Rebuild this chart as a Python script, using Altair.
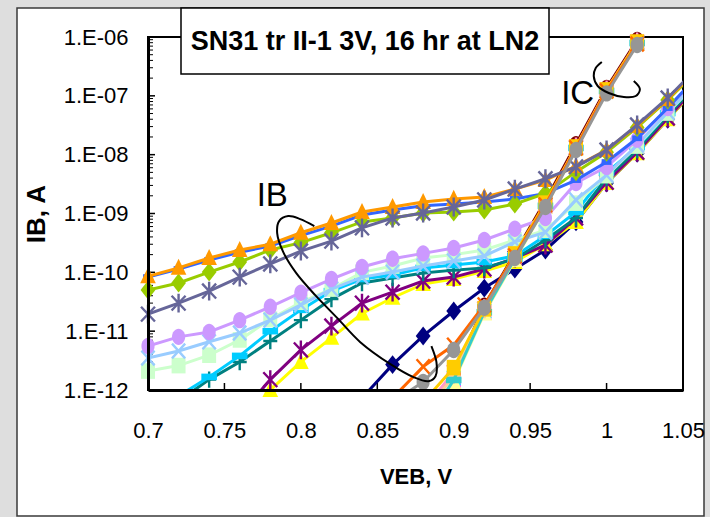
import altair as alt
import pandas as pd

# Emitter-base voltage sweep (V)
VEB = [0.70, 0.72, 0.74, 0.76, 0.78, 0.80, 0.82, 0.84, 0.86, 0.88,
       0.90, 0.92, 0.94, 0.96, 0.98, 1.00, 1.02, 1.04, 1.06]
VEB_IC = [0.86, 0.88, 0.90, 0.92, 0.94, 0.96, 0.98, 1.00, 1.02, 1.04]

# Base currents IB (A); each list ends at the last VEB point
ib_s01 = [7.3e-13, 2.7e-12, 8.3e-12, 2.2e-11, 5.4e-11, 1.14e-10, 2.4e-10, 7.2e-10, 3.3e-9, 1.06e-8, 4.0e-8, 1.48e-7]
ib_s03 = [2.5e-13, 1.0e-12, 3.0e-12, 7.7e-12, 2.0e-11, 3.7e-11, 6.3e-11, 7.7e-11, 1.05e-10, 1.5e-10, 3.0e-10, 7.2e-10, 3.3e-9, 1.06e-8, 4.0e-8, 1.48e-7]
ib_s05 = [3.8e-13, 1.5e-12, 4.8e-12, 1.22e-11, 3.0e-11, 4.6e-11, 7.1e-11, 8.3e-11, 1.14e-10, 1.75e-10, 2.9e-10, 8.4e-10, 3.4e-9, 1.1e-8, 4.2e-8, 1.53e-7]
ib_s07 = [2.5e-13, 6.5e-13, 1.5e-12, 3.0e-12, 6.8e-12, 1.54e-11, 3.5e-11, 6.6e-11, 8.0e-11, 9.7e-11, 1.09e-10, 1.19e-10, 1.7e-10, 3.55e-10, 8.4e-10, 4.0e-9, 1.2e-8, 4.7e-8, 1.65e-7]
ib_s09 = [3.8e-13, 7.9e-13, 1.67e-12, 3.8e-12, 1.0e-11, 2.3e-11, 4.8e-11, 7.7e-11, 9.0e-11, 1.19e-10, 1.33e-10, 1.5e-10, 1.9e-10, 4.2e-10, 1.06e-9, 4.9e-9, 1.35e-8, 5.1e-8, 1.8e-7]
ib_s11 = [2.1e-12, 2.6e-12, 3.9e-12, 7.1e-12, 1.6e-11, 3.1e-11, 5.2e-11, 1.0e-10, 1.28e-10, 1.75e-10, 2.0e-10, 2.4e-10, 3.55e-10, 5.2e-10, 1.5e-9, 4.4e-9, 1.4e-8, 5.1e-8, 1.8e-7]
ib_s13 = [3.5e-12, 4.6e-12, 6.6e-12, 9.3e-12, 1.54e-11, 2.8e-11, 5.2e-11, 8.3e-11, 1.01e-10, 1.28e-10, 1.56e-10, 1.9e-10, 3.3e-10, 4.8e-10, 1.7e-9, 4.5e-9, 1.46e-8, 5.3e-8, 1.86e-7]
ib_s15 = [5.6e-12, 8.0e-12, 9.7e-12, 1.54e-11, 2.6e-11, 4.5e-11, 7.7e-11, 1.23e-10, 1.7e-10, 2.1e-10, 2.6e-10, 3.55e-10, 5.5e-10, 8.4e-10, 3.3e-9, 6.2e-9, 1.8e-8, 6.2e-8, 2.17e-7]
ib_s17 = [8.3e-11, 1.14e-10, 1.62e-10, 2.2e-10, 2.8e-10, 4.2e-10, 6.1e-10, 9.4e-10, 1.15e-9, 1.35e-9, 1.45e-9, 1.57e-9, 1.77e-9, 2.2e-9, 3.7e-9, 7.5e-9, 1.9e-8, 6.2e-8, 2.26e-7]
ib_s19 = [5.0e-11, 6.6e-11, 1.01e-10, 1.5e-10, 2.4e-10, 3.2e-10, 4.7e-10, 7.2e-10, 8.4e-10, 1.02e-9, 1.06e-9, 1.15e-9, 1.45e-9, 2.2e-9, 5.1e-9, 1.1e-8, 2.9e-8, 8.5e-8, 2.75e-7]
ib_s21 = [8.6e-11, 1.19e-10, 1.75e-10, 2.4e-10, 3.0e-10, 4.7e-10, 6.9e-10, 1.06e-9, 1.29e-9, 1.57e-9, 1.77e-9, 1.9e-9, 2.6e-9, 3.7e-9, 6.4e-9, 1.2e-8, 3.1e-8, 8.8e-8, 2.97e-7]
ib_s23 = [1.95e-11, 3.0e-11, 4.8e-11, 8.3e-11, 1.39e-10, 2.3e-10, 3.4e-10, 5.7e-10, 8.4e-10, 1.02e-9, 1.29e-9, 1.7e-9, 2.6e-9, 3.9e-9, 6.2e-9, 1.2e-8, 3.2e-8, 9.2e-8, 3.1e-7]

# Collector currents IC (A); each list ends at the last VEB_IC point
ic_s02 = [2.1e-13, 1.48e-12, 2.1e-11, 1.7e-10, 1.35e-9, 1.3e-8, 1.21e-7, 7.9e-7, 5.6e-6]
ic_s04 = [3.1e-13, 1.61e-12, 2.2e-11, 1.75e-10, 1.4e-9, 1.3e-8, 1.21e-7, 7.9e-7, 5.6e-6]
ic_s06 = [4.2e-13, 1.87e-12, 2.7e-11, 2.1e-10, 1.64e-9, 1.5e-8, 1.36e-7, 8.9e-7, 6.3e-6]
ic_s08 = [2.5e-13, 1.55e-12, 2.2e-11, 1.75e-10, 1.4e-9, 1.3e-8, 1.21e-7, 7.9e-7, 5.6e-6]
ic_s10 = [3.3e-13, 1.67e-12, 2.3e-11, 1.75e-10, 1.4e-9, 1.3e-8, 1.21e-7, 7.9e-7, 5.6e-6]
ic_s12 = [1.4e-13, 1.37e-12, 2.0e-11, 1.62e-10, 1.29e-9, 1.25e-8, 1.16e-7, 7.6e-7, 5.4e-6]
ic_s14 = [4.6e-13, 2.0e-12, 2.4e-11, 1.9e-10, 1.45e-9, 1.35e-8, 1.26e-7, 8.2e-7, 5.8e-6]
ic_s16 = [3.8e-13, 1.74e-12, 2.3e-11, 1.8e-10, 1.4e-9, 1.3e-8, 1.21e-7, 7.9e-7, 5.6e-6]
ic_s18 = [2.3e-13, 1.48e-12, 2.1e-11, 1.7e-10, 1.35e-9, 1.3e-8, 1.21e-7, 7.9e-7, 5.6e-6]
ic_s20 = [6.2e-13, 2.4e-12, 2.4e-11, 2.05e-10, 1.5e-9, 1.35e-8, 1.26e-7, 8.2e-7, 5.8e-6]
ic_s22 = [7.3e-13, 2.5e-12, 5.8e-12, 2.8e-11, 1.9e-10, 1.4e-9, 1.3e-8, 1.21e-7, 7.6e-7, 5.4e-6]
ic_s24 = [6.2e-13, 1.37e-12, 4.8e-12, 2.5e-11, 1.75e-10, 1.29e-9, 1.2e-8, 1.1e-7, 7.3e-7, 5.2e-6]

# Hand-drawn grouping loops (VEB in V, log10 of current in A)
ib_loop_v = [0.8088, 0.7996, 0.7917, 0.7858, 0.7845, 0.7885, 0.7970, 0.8094, 0.8239,
             0.8389, 0.8586, 0.8737, 0.8835, 0.8881, 0.8887, 0.8854]
ib_loop_log = [-9.214, -9.095, -9.044, -9.129, -9.333, -9.656, -10.014, -10.388, -10.779,
               -11.187, -11.561, -11.782, -11.850, -11.765, -11.527, -11.255]
ic_loop_v = [0.9969, 0.9929, 0.9916, 0.9942, 1.0014, 1.0113, 1.0191, 1.0218, 1.0178]
ic_loop_log = [-6.425, -6.527, -6.663, -6.833, -6.952, -7.020, -7.003, -6.884, -6.748]

X_TICKS = [0.7, 0.75, 0.8, 0.85, 0.9, 0.95, 1.0, 1.05]
Y_TICKS = [1e-12, 1e-11, 1e-10, 1e-9, 1e-8, 1e-7, 1e-6]
Y_MINOR = [m * d for d in Y_TICKS[:-1] for m in range(2, 10)]

# Excel-style marker glyphs: (svg path in the unit square, filled?)
MARKERS = {
    "diamond": ("M0,-1.15L0.9,0L0,1.15L-0.9,0Z", True),
    "square": ("M-0.85,-0.95L0.85,-0.95L0.85,0.95L-0.85,0.95Z", True),
    "triangle": ("M0,-1.1L0.95,0.85L-0.95,0.85Z", True),
    "x": ("M-0.8,-0.9L0.8,0.9M-0.8,0.9L0.8,-0.9", False),
    "star": ("M-0.85,-0.9L0.85,0.9M-0.85,0.9L0.85,-0.9M0,-1.15L0,1.15", False),
    "circle": ("M0,-1A0.8,1,0,1,1,0,1A0.8,1,0,1,1,0,-1Z", True),
    "plus": ("M-0.85,0L0.85,0M0,-1L0,1", False),
    "bar_l": ("M-0.95,-0.4L0.95,-0.4L0.95,0.4L-0.95,0.4Z", True),
    "bar_s": ("M-0.6,-0.35L0.6,-0.35L0.6,0.35L-0.6,0.35Z", True),
}

# Series in plotting order: (values, grid, colour, marker)
SERIES = [
    (ib_s01, VEB, "#000080", "diamond"),
    (ic_s02, VEB_IC, "#FF00FF", "square"),
    (ib_s03, VEB, "#FFFF00", "triangle"),
    (ic_s04, VEB_IC, "#00FFFF", "x"),
    (ib_s05, VEB, "#800080", "star"),
    (ic_s06, VEB_IC, "#800000", "circle"),
    (ib_s07, VEB, "#008080", "plus"),
    (ic_s08, VEB_IC, "#0000FF", "bar_s"),
    (ib_s09, VEB, "#00CCFF", "bar_l"),
    (ic_s10, VEB_IC, "#CCFFFF", "diamond"),
    (ib_s11, VEB, "#CCFFCC", "square"),
    (ic_s12, VEB_IC, "#FFFF99", "triangle"),
    (ib_s13, VEB, "#99CCFF", "x"),
    (ic_s14, VEB_IC, "#FF99CC", "star"),
    (ib_s15, VEB, "#CC99FF", "circle"),
    (ic_s16, VEB_IC, "#FFCC99", "plus"),
    (ib_s17, VEB, "#3366FF", "bar_s"),
    (ic_s18, VEB_IC, "#33CCCC", "bar_l"),
    (ib_s19, VEB, "#99CC00", "diamond"),
    (ic_s20, VEB_IC, "#FFCC00", "square"),
    (ib_s21, VEB, "#FF9900", "triangle"),
    (ic_s22, VEB_IC, "#FF6600", "x"),
    (ib_s23, VEB, "#666699", "star"),
    (ic_s24, VEB_IC, "#969696", "circle"),
]

FONT = "Liberation Sans, Arial, sans-serif"
W, H = 535, 353
MSIZE = 270

x_scale = alt.Scale(domain=[0.7, 1.05], nice=False, zero=False)
y_scale = alt.Scale(type="log", domain=[1e-12, 1e-6], nice=False)

x_axis = alt.Axis(values=X_TICKS, format="~g", title="VEB, V", ticks=False, grid=False,
                  domainColor="black", domainWidth=3, labelFont=FONT, labelFontSize=22,
                  labelColor="black", labelPadding=30, labelFlush=False, labelOverlap=False,
                  titleFont=FONT, titleFontSize=22, titleFontWeight="bold",
                  titleColor="black", titlePadding=25, zindex=2)
y_axis = alt.Axis(values=Y_TICKS, title="IB, A", ticks=False, grid=False,
                  labelExpr="'1.E-' + (round(-log(datum.value) / LN10) < 10 ? '0' : '') + round(-log(datum.value) / LN10)",
                  domainColor="black", domainWidth=3, labelFont=FONT, labelFontSize=22,
                  labelColor="black", labelPadding=20, labelFlush=False, labelOverlap=False,
                  titleFont=FONT, titleFontSize=26, titleFontWeight="bold",
                  titleColor="black", titlePadding=14, zindex=2)

def X(field="v"):
    return alt.X(f"{field}:Q", scale=x_scale, axis=x_axis)

def Y(field="i"):
    return alt.Y(f"{field}:Q", scale=y_scale, axis=y_axis)

one = alt.Data(values=[{}])

def px_rect(x, x2, y, y2, **kw):
    return alt.Chart(one).mark_rect(clip=False, **kw).encode(
        x=alt.value(x), x2=alt.value(x2), y=alt.value(y), y2=alt.value(y2))

GREY = "#DEDEDE"
# grey surround of the chart area and its border
surround = [
    px_rect(-148, -131, -37, 480, fill=GREY),
    px_rect(-148, 562, -37, -29, fill=GREY),
    px_rect(556, 562, -37, 480, fill=GREY),
    px_rect(-131, 556, -29, 479, fill="white", fillOpacity=0, stroke="#3a3a3a", strokeWidth=1.5),
]
frame = px_rect(0, W, 0, H, fill="white", fillOpacity=0, stroke="black", strokeWidth=2)

# inward tick marks
xt = alt.Chart(pd.DataFrame({"v": X_TICKS})).mark_rule(color="black", strokeWidth=1.5).encode(
    x=X(), y=alt.value(H), y2=alt.value(H - 7))
yt_major = alt.Chart(pd.DataFrame({"i": Y_TICKS})).mark_rule(color="black", strokeWidth=1.5).encode(
    y=Y(), x=alt.value(0), x2=alt.value(7))
yt_minor = alt.Chart(pd.DataFrame({"i": Y_MINOR})).mark_rule(color="black", strokeWidth=1).encode(
    y=Y(), x=alt.value(0), x2=alt.value(5))

layers = surround + [frame, xt, yt_major, yt_minor]

in_range = "datum.i >= 1e-12 && datum.i <= 1e-6 && datum.v <= 1.05"
for vals, grid, colour, marker in SERIES:
    df = pd.DataFrame({"v": grid[-len(vals):], "i": vals})
    base = alt.Chart(df).encode(x=X(), y=Y())
    layers.append(base.mark_line(color=colour, strokeWidth=3, clip=True))
    path, filled = MARKERS[marker]
    if filled:
        pts = base.mark_point(shape=path, filled=True, fill=colour, size=MSIZE, opacity=1)
    else:
        pts = base.mark_point(shape=path, filled=False, stroke=colour, strokeWidth=2.4,
                              size=MSIZE, opacity=1)
    layers.append(pts.transform_filter(in_range))

# grouping loops and their labels
for lv, ll in ((ib_loop_v, ib_loop_log), (ic_loop_v, ic_loop_log)):
    loop = pd.DataFrame({"v": lv, "i": [10 ** p for p in ll], "k": range(len(lv))})
    layers.append(alt.Chart(loop).mark_line(color="black", strokeWidth=2,
                                            interpolate="catmull-rom").encode(
        x=X(), y=Y(), order="k:Q"))

notes = pd.DataFrame({"v": [0.7813, 0.9811], "i": [2.14e-9, 1.14e-7], "t": ["IB", "IC"]})
layers.append(alt.Chart(notes).mark_text(font=FONT, fontSize=33, color="black",
                                         align="center", baseline="middle", dy=2).encode(
    x=X(), y=Y(), text="t:N"))

# title box
layers.append(px_rect(33, 401, -29, 37, fill="white", stroke="black", strokeWidth=1.5))
layers.append(alt.Chart(one).mark_text(
    text="SN31 tr II-1 3V, 16 hr at LN2", font=FONT, fontSize=27, fontWeight="bold",
    color="black", align="center", baseline="alphabetic").encode(
    x=alt.value(217), y=alt.value(13)))

chart = alt.layer(*layers).properties(
    width=W, height=H,
    padding={"left": 148, "top": 37, "right": 27, "bottom": 127},
    autosize=alt.AutoSizeParams(type="none"),
    background="white",
).configure_view(stroke=None)

chart.save("out.html", embed_options={"renderer": "svg", "actions": False})
